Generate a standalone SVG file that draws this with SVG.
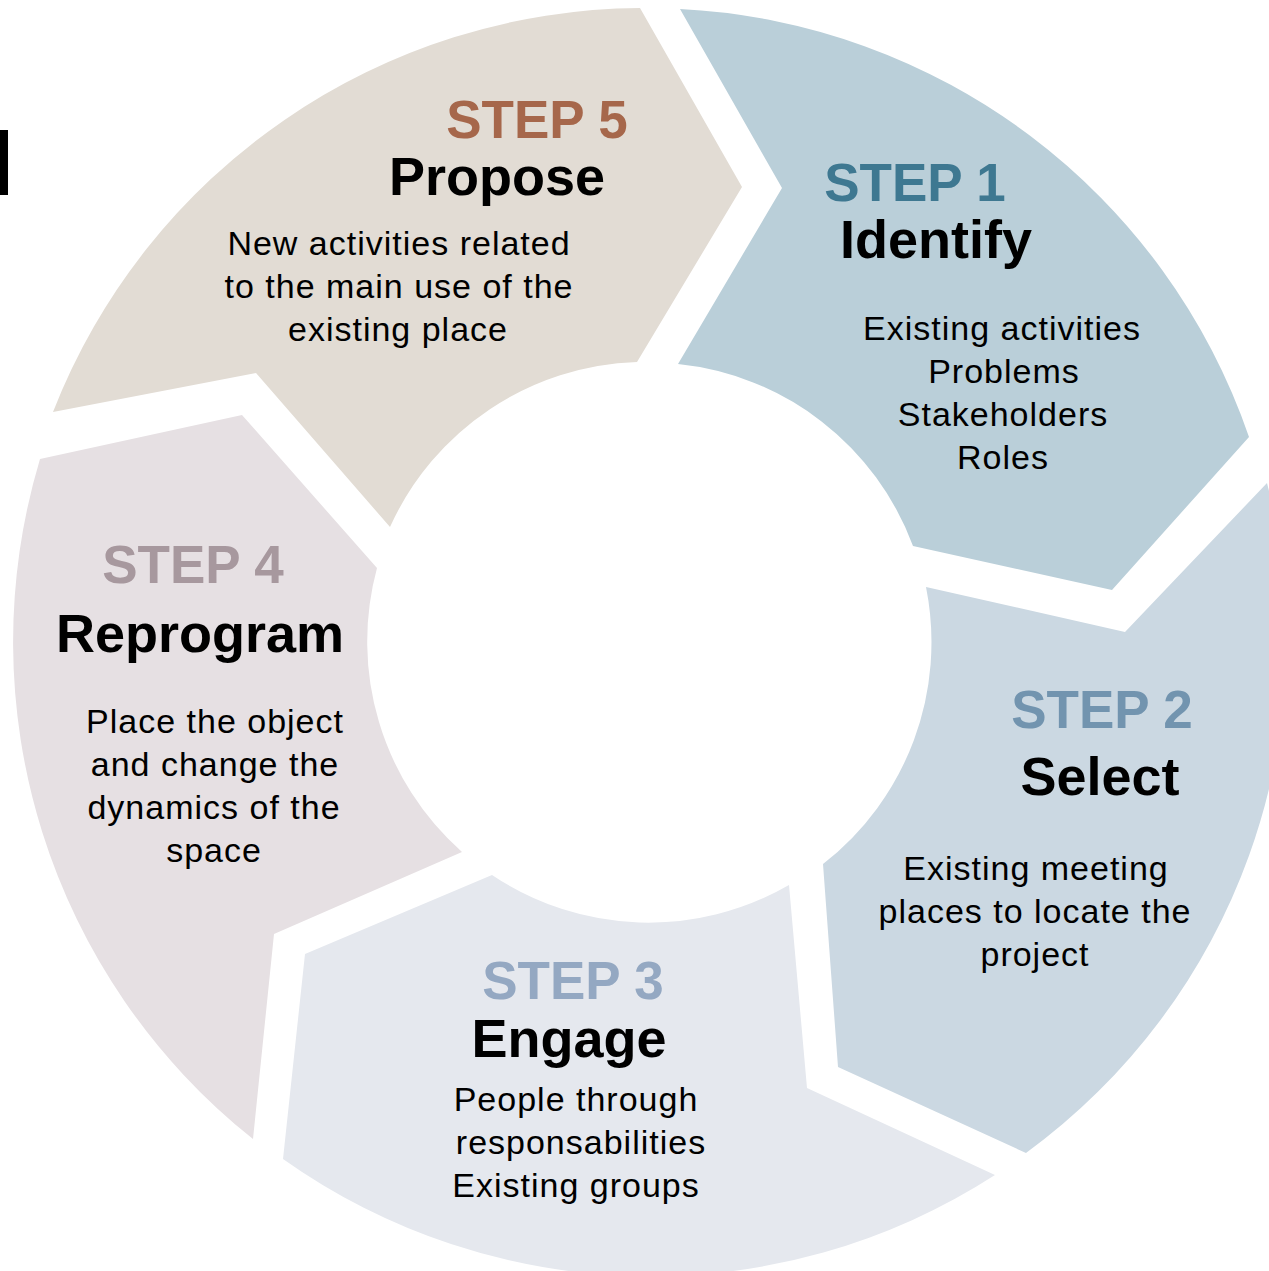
<svg xmlns="http://www.w3.org/2000/svg" width="1269" height="1271" viewBox="0 0 1269 1271">
<style>
.step{font-family:"Liberation Sans",Arial,sans-serif;font-weight:bold;font-size:53px;text-anchor:middle}
.title{font-family:"Liberation Sans",Arial,sans-serif;font-weight:bold;font-size:54px;text-anchor:middle;fill:#000}
.body{font-family:"Liberation Sans",Arial,sans-serif;font-size:34px;letter-spacing:1px;text-anchor:middle;fill:#000}
</style>
<rect x="0" y="0" width="1269" height="1271" fill="#ffffff"/>
<rect id="edge-mark" x="0" y="130" width="8" height="65" fill="#000"/>

<g id="step5">
<path d="M53,412 A635,635 0 0 1 640,8 L742,187 L637,362 A281,281 0 0 0 390,527 L256,373 Z" fill="#E2DCD4"/>
<text class="step" x="537" y="138" fill="#A6674B">STEP 5</text>
<text class="title" x="497" y="195">Propose</text>
<text class="body" x="399" y="255">New activities related</text>
<text class="body" x="399" y="298">to the main use of the</text>
<text class="body" x="398" y="341">existing place</text>
</g>

<g id="step1">
<path d="M680,9 A635,635 0 0 1 1249,437 L1112,590 L913,546 A281,281 0 0 0 678,364 L782,188 Z" fill="#BACFD9"/>
<text class="step" x="915" y="201" fill="#3E7891">STEP 1</text>
<text class="title" x="936" y="258">Identify</text>
<text class="body" x="1002" y="340">Existing activities</text>
<text class="body" x="1004" y="383">Problems</text>
<text class="body" x="1003" y="426">Stakeholders</text>
<text class="body" x="1003" y="469">Roles</text>
</g>

<g id="step2">
<path d="M1267,483 A635,635 0 0 1 1026,1153 L838,1067 L823,864 A281,281 0 0 0 926,587 L1125,632 Z" fill="#CBD8E2"/>
<text class="step" x="1102" y="728" fill="#7294AF">STEP 2</text>
<text class="title" x="1100" y="795">Select</text>
<text class="body" x="1036" y="880">Existing meeting</text>
<text class="body" x="1035" y="923">places to locate the</text>
<text class="body" x="1035" y="966">project</text>
</g>

<g id="step3">
<path d="M995,1175 A635,635 0 0 1 283,1159 L305,954 L492,875 A281,281 0 0 0 789,885 L807,1088 Z" fill="#E5E8EE"/>
<text class="step" x="573" y="999" fill="#94A8C2">STEP 3</text>
<text class="title" x="569" y="1057">Engage</text>
<text class="body" x="576" y="1111">People through</text>
<text class="body" x="581" y="1154">responsabilities</text>
<text class="body" x="576" y="1197">Existing groups</text>
</g>

<g id="step4">
<path d="M253,1139 A635,635 0 0 1 40,459 L242,415 L377,568 A281,281 0 0 0 462,852 L274,934 Z" fill="#E6E0E3"/>
<text class="step" x="193" y="583" fill="#A7989E">STEP 4</text>
<text class="title" x="200" y="652">Reprogram</text>
<text class="body" x="215" y="733">Place the object</text>
<text class="body" x="215" y="776">and change the</text>
<text class="body" x="214" y="819">dynamics of the</text>
<text class="body" x="214" y="862">space</text>
</g>
</svg>
